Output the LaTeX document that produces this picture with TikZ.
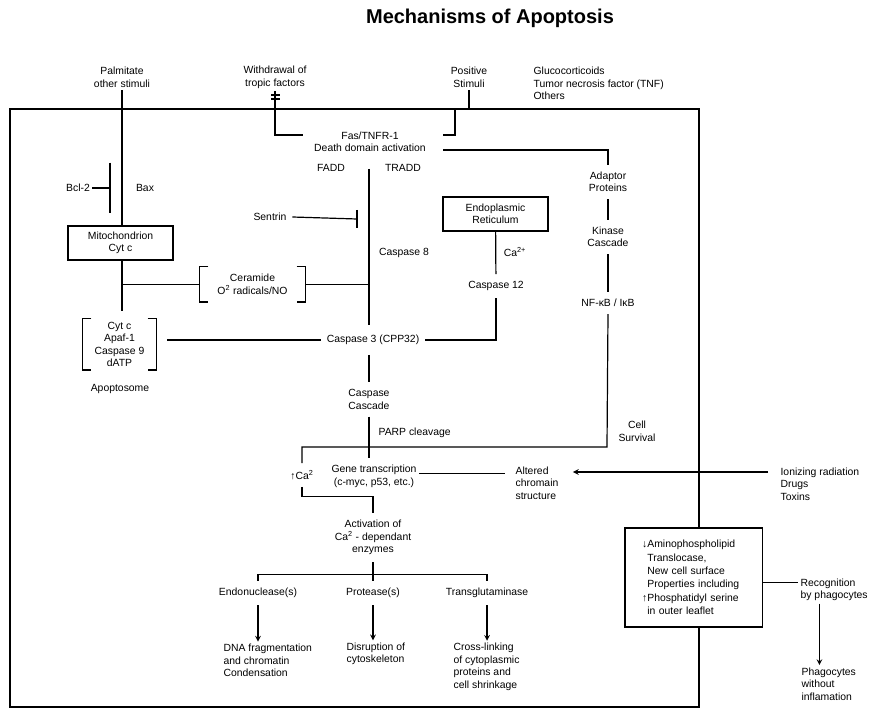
\documentclass[tikz,border=0pt]{standalone}
\usepackage{fontspec}
\setmainfont{Liberation Sans}
\usetikzlibrary{arrows,positioning}

\begin{document}
\begin{tikzpicture}[x=0.75pt, y=-0.75pt, >=stealth, line width=0.9pt,
    lbl/.style={font=\fontsize{7.8}{9.4}\selectfont, align=center, inner sep=1.5pt},
    lft/.style={lbl, align=left},
    chain/.style={lbl, inner ysep=5pt},
    cbox/.style={lbl, draw, line width=1pt, minimum width=78.75pt, minimum height=25.5pt},
    brk/.style={lbl, minimum width=78.75pt, minimum height=25.5pt},
    border/.style={line width=2pt}]
  \useasboundingbox (0,0) rectangle (872,709);

  % title and outer cell
  \node[font=\fontsize{15}{18}\selectfont\bfseries] (title) at (490,18) {Mechanisms of Apoptosis};
  \draw[border] (10,109) rectangle (699,707);

  % stimuli outside the cell
  \node[lbl] (palm)  at (122,77.5) {Palmitate\\other stimuli};
  \node[lbl] (withd) at (275,77.5) {Withdrawal of\\tropic factors};
  \node[lbl] (posst) at (469,77.5) {Positive\\Stimuli};
  \node[lft, anchor=west] (gluco) at (531,83.5) {Glucocorticoids\\Tumor necrosis factor (TNF)\\Others};

  % death receptor
  \node[lbl] (fas) at (370,142) {Fas/TNFR-1\\Death domain activation};
  \coordinate (fasL) at (303,135);
  \coordinate (fasR) at (443,135);
  \coordinate (ddR)  at (443,150);
  \coordinate (posin) at (469,109);
  \draw (withd.south) |- (fasL);
  \draw (271,95) -- (280,95) (271,99) -- (280,99);
  \draw (fasR) -| (455,109);
  \draw (posst.south) -- (posin);

  % survival branch
  \node[chain] (adapt) at (608,182) {Adaptor\\Proteins};
  \node[chain] (kin)   at (608,237) {Kinase\\Cascade};
  \node[chain] (nfkb)  at (608,303) {NF-κB / IκB};
  \node[lbl]   (surv)  at (637,431.5) {Cell\\Survival};
  \draw (ddR) -| (adapt.north);
  \draw (adapt) -- (kin);
  \draw (kin) -- (nfkb);

  % mitochondrial branch
  \node[lbl] (bcl) at (78,188) {Bcl-2};
  \node[lbl] (bax) at (145,188) {Bax};
  \coordinate (bclbar) at (110,188);
  \draw (bcl.east) -- (bclbar);
  \draw ([yshift=19pt]bclbar) -- ([yshift=-19pt]bclbar);
  \node[cbox] (mito) at (120.5,243) {Mitochondrion\\Cyt c};
  \draw (palm.south) -- (palm.south |- mito.north);
  \node[brk] (cer) at (252.5,284.5) {Ceramide\\O\textsuperscript{2} radicals/NO};
  \node[brk, minimum width=54.75pt, minimum height=37.5pt] (apo) at (119.5,344.5) {Cyt c\\Apaf-1\\Caspase 9\\dATP};
  \node[lbl] (apolbl) at (120,389) {Apoptosome};
  \foreach \b in {cer,apo} {
    \draw ([xshift=6.75pt]\b.north west) -- (\b.north west) -- (\b.south west) -- ([xshift=6.75pt]\b.south west);
    \draw ([xshift=-6.75pt]\b.north east) -- (\b.north east) -- (\b.south east) -- ([xshift=-6.75pt]\b.south east);
  }
  \draw[shorten >=6pt] (palm.south |- mito.south) -- (palm.south |- apo.north);
  \draw (cer.west) -- (cer.west -| palm.south);

  % caspase trunk
  \node[lbl] (fadd)  at (331,168) {FADD};
  \node[lbl] (tradd) at (403,168) {TRADD};
  \node[lbl] (casp8) at (404,253) {Caspase 8};
  \node[lbl, inner xsep=4pt] (sentrin) at (270,217) {Sentrin};
  \coordinate (sentbar) at (357,219);
  \draw (sentrin.east) -- (sentbar);
  \draw ([yshift=6.75pt]sentbar) -- ([yshift=-6.75pt]sentbar);
  \coordinate (trtop) at (369,169);
  \node[lbl, inner ysep=7pt, inner xsep=4pt] (casp3) at (373,340) {Caspase 3 (CPP32)};
  \draw (trtop) -- (trtop |- casp3.north);
  \draw (cer.east) -- (cer.east -| trtop);
  \draw (casp3.west) -- ([xshift=8pt]apo.east |- casp3.west);

  % endoplasmic reticulum
  \node[cbox] (er) at (495.5,214) {Endoplasmic\\Reticulum};
  \node[lbl] (ca2) at (515,252) {Ca\textsuperscript{2+}};
  \node[chain] (casp12) at (496,286) {Caspase 12};
  \draw (er) -- (casp12);
  \draw (casp3.east) -| (casp12.south);

  % nucleus events
  \node[chain] (cascade) at (369,399.5) {Caspase\\Cascade};
  \node[lbl, anchor=west] (parp) at (376,433) {PARP cleavage};
  \draw (trtop |- casp3.south) -- (cascade.north);
  \node[chain] (gene) at (374,476.5) {Gene transcription\\(c-myc, p53, etc.)};
  \draw (cascade.south) -- (cascade.south |- gene.north);
  \node[chain] (ca) at (302,475) {↑Ca\textsuperscript{2}};
  \coordinate (survC) at (607,447);
  \draw (nfkb.south) -- (survC) -| (ca.north);
  \node[lft, anchor=west] (alt) at (513,483) {Altered\\chromain\\structure};
  \draw ([yshift=2.5pt]gene.east) -- ([yshift=2.5pt,xshift=-6pt]gene.east -| alt.west);
  \node[lft, anchor=west] (ion) at (778,484) {Ionizing radiation\\Drugs\\Toxins};
  \coordinate (ionS) at (768,472);
  \draw[->] (ionS) -- ([xshift=9pt]alt.east |- ionS);

  % calcium dependent enzymes
  \node[chain] (act) at (373,537.5) {Activation of\\Ca\textsuperscript{2} - dependant\\enzymes};
  \draw (ca.south) -- ++(0,10) -| (act.north);
  \node[chain] (endo)  at (258,593) {Endonuclease(s)};
  \node[chain] (prot)  at (373,593) {Protease(s)};
  \node[chain] (trans) at (487,593) {Transglutaminase};
  \draw (act.south) -- ++(0,12) coordinate (actJ);
  \draw (endo.north) |- (actJ) -| (trans.north);
  \draw (actJ) -- (prot.north);
  \node[lft, anchor=west] (dna)   at (221,660.5) {DNA fragmentation\\and chromatin\\Condensation};
  \node[lft, anchor=west] (disr)  at (344,654) {Disruption of\\cytoskeleton};
  \node[lft, anchor=west] (cross) at (451,667) {Cross-linking\\of cytoplasmic\\proteins and\\cell shrinkage};
  \draw[->] (endo.south) -- (endo.south |- dna.north);
  \draw[->] (prot.south) -- (prot.south |- disr.north);
  \draw[->] (trans.south) -- (trans.south |- cross.north);

  % membrane changes
  \node[lbl, draw, fill=white, line width=1pt, align=left, text width=77pt, inner xsep=13pt,
        minimum height=74.25pt, font=\fontsize{7.8}{10}\selectfont] (amino) at (693.5,577.5)
        {↓Aminophospholipid\\\hphantom{↓}Translocase,\\\hphantom{↓}New cell surface\\\hphantom{↓}Properties including\\↑Phosphatidyl serine\\\hphantom{↓}in outer leaflet};
  \node[lft, anchor=west] (recog) at (798,590) {Recognition\\by phagocytes};
  \node[lft, anchor=west] (phag)  at (799,684) {Phagocytes\\without\\inflamation};
  \draw ([yshift=-4pt]amino.east) -- ([yshift=-4pt]amino.east -| recog.west);
  \draw[->] ([xshift=-11pt]recog.south) -- ([xshift=-11pt]recog.south |- phag.north);
\end{tikzpicture}
\end{document}
